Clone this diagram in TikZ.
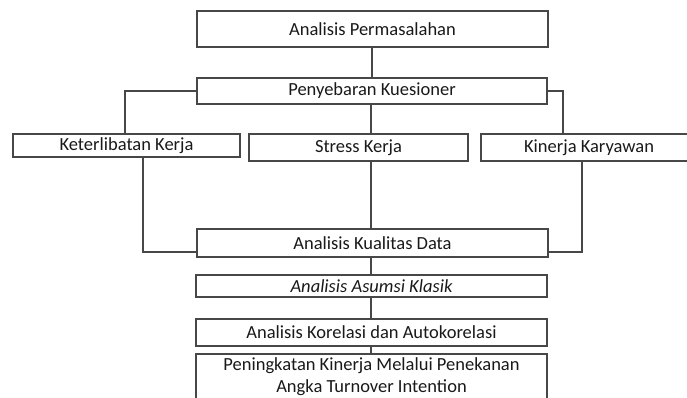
\documentclass[tikz,border=0pt]{standalone}
\usepackage{fontspec}
\setmainfont{Carlito}
\begin{document}
\begin{tikzpicture}[x=1pt,y=-1pt,
  box/.style={draw=black!72,line width=1.3pt,rectangle,inner sep=0pt,
    font=\fontsize{18.5}{22}\selectfont,text=black!90},
  conn/.style={draw=black!72,line width=1.3pt}]
\useasboundingbox (0,0) rectangle (687,397);
\clip (0,0) rectangle (687,397);
\node[box,minimum width=351pt,minimum height=36pt] (ap) at (372.5,29) {Analisis Permasalahan};
\node[box,minimum width=350pt,minimum height=26pt] (pk) at (372,91) {Penyebaran Kuesioner};
\node[box,minimum width=227pt,minimum height=23pt] (kk) at (126.5,145.5) {Keterlibatan Kerja};
\node[box,minimum width=219pt,minimum height=27pt] (sk) at (358.5,147.5) {Stress Kerja};
\node[box,minimum width=216pt,minimum height=27pt] (kar) at (589,147.5) {Kinerja Karyawan};
\node[box,minimum width=351pt,minimum height=28pt] (kd) at (372.5,243) {Analisis Kualitas Data};
\node[box,minimum width=351pt,minimum height=22pt] (aak) at (371.5,286) {\itshape Analisis Asumsi Klasik};
\node[box,minimum width=351pt,minimum height=27pt] (akk) at (371.5,332.5) {Analisis Korelasi dan Autokorelasi};
\node[box,minimum width=351pt,minimum height=46pt,align=center] (pen) at (371.5,377) {Peningkatan Kinerja Melalui Penekanan\\Angka Turnover Intention};
% connectors
\draw[conn] (ap.south -| 372,0) -- (pk.north -| 372,0);
\draw[conn] (pk.west) -| (kk.north -| 125,0);
\draw[conn] (pk.east) -| (kar.north -| 563,0);
\draw[conn] (pk.south -| 371,0) -- (sk.north -| 371,0);
\draw[conn] (sk.south -| 371,0) -- (kd.north -| 371,0);
\coordinate (kdl) at ([yshift=-9pt]kd.west);
\coordinate (kdr) at ([yshift=-9pt]kd.east);
\draw[conn] (kk.south -| 143,0) |- (kdl);
\draw[conn] (kar.south -| 582,0) |- (kdr);
\draw[conn] (kd.south -| 371,0) -- (aak.north -| 371,0);
\draw[conn] (aak.south -| 371,0) -- (akk.north -| 371,0);
\draw[conn] (akk.south -| 371,0) -- (pen.north -| 371,0);
\end{tikzpicture}
\end{document}
